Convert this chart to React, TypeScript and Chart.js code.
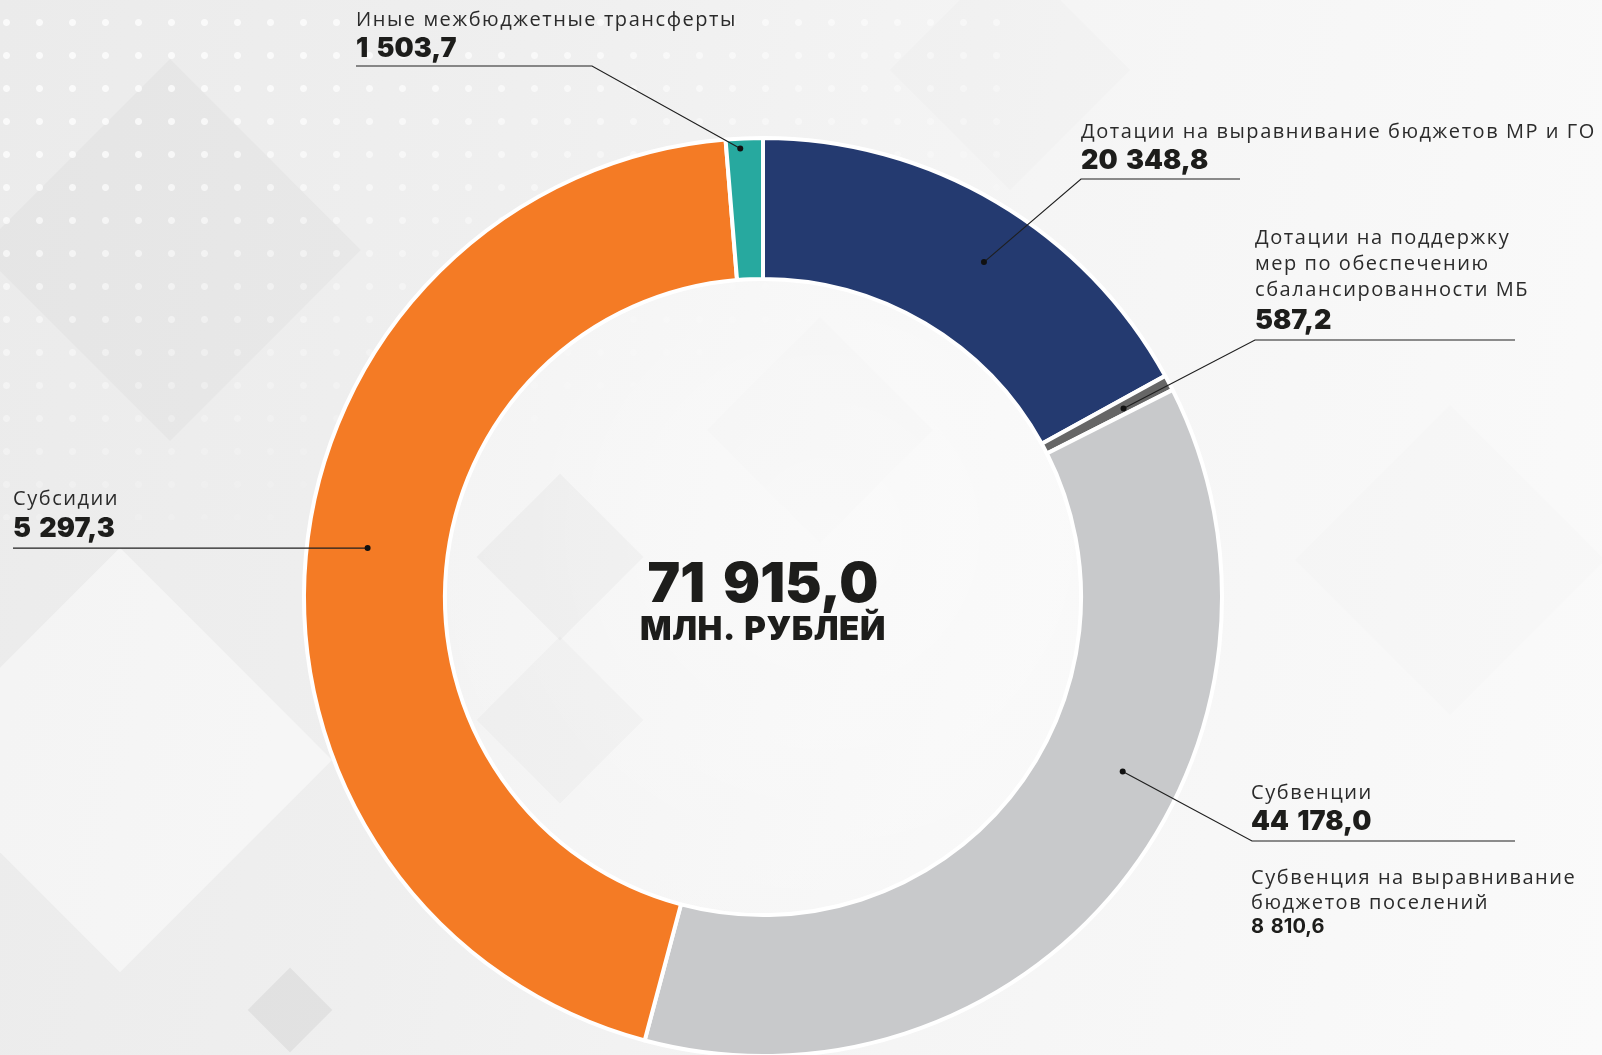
import React, { useEffect, useRef } from 'react';
import { Chart, registerables } from 'chart.js';

Chart.register(...registerables);

// ---- data ----
const categories = [
  'Дотации на выравнивание бюджетов МР и ГО',
  'Дотации на поддержку мер по обеспечению сбалансированности МБ',
  'Субвенции',
  'Субсидии',
  'Иные межбюджетные трансферты',
];
const valueLabels = ['20 348,8', '587,2', '44 178,0', '5 297,3', '1 503,7'];
// share of the ring as drawn in the picture (percent of circle)
const arcShares = [17.0, 0.55, 36.6, 44.55, 1.3];
const colors = ['#243a70', '#666666', '#c8c9cb', '#f47b25', '#27a99f'];
const totalLabel = '71 915,0';
const unitLabel = 'МЛН. РУБЛЕЙ';
const noteLines = ['Субвенция на выравнивание', 'бюджетов поселений'];
const noteValue = '8 810,6';

// ---- layout (styling only) ----
const CX = 763;
const CY = 597;
const W = 1602;
const H = 1055;
const LABEL_FONT = '"Open Sans", sans-serif';
const BOLD_FONT = 'Inter, Roboto, "Noto Sans", sans-serif';
const LABEL_SPACING = 1.55;

type Leader = { along: number; across: number; elbow: [number, number] | null; endX: number };
const leaders: Leader[] = [
  { along: 0.546, across: 0.59, elbow: [1081, 179], endX: 1240 },
  { along: 0.6, across: 0.63, elbow: [1255, 340], endX: 1515 },
  { along: 0.4, across: 0.58, elbow: [1252, 841], endX: 1515 },
  { along: 0.512, across: 0.57, elbow: null, endX: 13 },
  { along: 0.38, across: 0.93, elbow: [592, 66], endX: 356 },
];

const labelBlocks = [
  { x: 1081, lines: ['Дотации на выравнивание бюджетов МР и ГО'], baselines: [138.5], valueBaseline: 170 },
  { x: 1255, lines: ['Дотации на поддержку', 'мер по обеспечению', 'сбалансированности МБ'], baselines: [244.5, 270.5, 296.5], valueBaseline: 330 },
  { x: 1251, lines: ['Субвенции'], baselines: [800], valueBaseline: 831 },
  { x: 13, lines: ['Субсидии'], baselines: [506], valueBaseline: 538.5 },
  { x: 356, lines: ['Иные межбюджетные трансферты'], baselines: [26.7], valueBaseline: 58.3 },
];

function Txt(props: {
  x: number;
  baseline: number;
  size: number;
  weight?: number;
  family?: string;
  center?: boolean;
  spacing?: number;
  wordSpacing?: number;
  children: React.ReactNode;
}) {
  const { x, baseline, size, weight = 400, family = LABEL_FONT, center, spacing = 0, wordSpacing = 0 } = props;
  const top = baseline - 0.89 * size;
  const style: React.CSSProperties = {
    position: 'absolute',
    top,
    left: center ? x - 500 : x,
    width: center ? 1000 : undefined,
    textAlign: center ? 'center' : 'left',
    fontFamily: family,
    fontSize: size,
    fontWeight: weight,
    lineHeight: `${size}px`,
    letterSpacing: spacing,
    wordSpacing,
    color: weight >= 700 ? '#1d1d1b' : '#2b2b2b',
    whiteSpace: 'nowrap',
  };
  return <div style={style}>{props.children}</div>;
}

const leaderPlugin = {
  id: 'leaders',
  afterDatasetsDraw(chart: any) {
    const ctx = chart.ctx;
    const meta = chart.getDatasetMeta(0);
    ctx.save();
    meta.data.forEach((arc: any, i: number) => {
      const L = leaders[i];
      if (!L) return;
      const p = arc.getProps(['x', 'y', 'startAngle', 'endAngle', 'innerRadius', 'outerRadius'], true);
      const a = p.startAngle + (p.endAngle - p.startAngle) * L.along;
      const r = p.innerRadius + (p.outerRadius - p.innerRadius) * L.across;
      const dx = p.x + r * Math.cos(a);
      const dy = p.y + r * Math.sin(a);
      ctx.strokeStyle = '#1f1f1f';
      ctx.lineWidth = 1.2;
      ctx.beginPath();
      ctx.moveTo(dx, dy);
      if (L.elbow) {
        ctx.lineTo(L.elbow[0], L.elbow[1]);
        ctx.lineTo(L.endX, L.elbow[1]);
      } else {
        ctx.lineTo(L.endX, dy);
      }
      ctx.stroke();
      ctx.fillStyle = '#111';
      ctx.beginPath();
      ctx.arc(dx, dy, 3, 0, Math.PI * 2);
      ctx.fill();
    });
    ctx.restore();
  },
};

function Background() {
  const diamonds = [
    { cx: 170, cy: 250, s: 270, c: 'rgba(0,0,0,0.022)' },
    { cx: 560, cy: 557, s: 118, c: 'rgba(0,0,0,0.045)' },
    { cx: 560, cy: 720, s: 118, c: 'rgba(0,0,0,0.03)' },
    { cx: 820, cy: 430, s: 160, c: 'rgba(0,0,0,0.012)' },
    { cx: 120, cy: 760, s: 300, c: 'rgba(255,255,255,0.45)' },
    { cx: 1010, cy: 70, s: 170, c: 'rgba(0,0,0,0.012)' },
    { cx: 290, cy: 1010, s: 60, c: 'rgba(0,0,0,0.05)' },
    { cx: 1450, cy: 560, s: 220, c: 'rgba(0,0,0,0.008)' },
  ];
  return (
    <>
      <div
        style={{
          position: 'absolute',
          inset: 0,
          background: 'linear-gradient(100deg, #ebebeb 0%, #efefef 30%, #f5f5f5 60%, #fafafa 100%)',
        }}
      />
      {diamonds.map((d, i) => (
        <div
          key={i}
          style={{
            position: 'absolute',
            left: d.cx - d.s / 2,
            top: d.cy - d.s / 2,
            width: d.s,
            height: d.s,
            background: d.c,
            transform: 'rotate(45deg)',
          }}
        />
      ))}
      <div
        style={{
          position: 'absolute',
          left: 0,
          top: 0,
          width: 1000,
          height: 520,
          backgroundImage: 'radial-gradient(circle, rgba(255,255,255,0.9) 3px, rgba(255,255,255,0) 4px)',
          backgroundSize: '33px 33px',
          backgroundPosition: '-10px 6px',
          WebkitMaskImage: 'linear-gradient(160deg, rgba(0,0,0,0.8) 20%, rgba(0,0,0,0) 75%)',
          maskImage: 'linear-gradient(160deg, rgba(0,0,0,0.8) 20%, rgba(0,0,0,0) 75%)',
        }}
      />
      <div
        style={{
          position: 'absolute',
          left: CX - 318,
          top: CY - 318,
          width: 636,
          height: 636,
          borderRadius: '50%',
          background: 'radial-gradient(circle at 60% 40%, rgba(255,255,255,0.55), rgba(255,255,255,0.2))',
        }}
      />
    </>
  );
}

export default function App() {
  const canvasRef = useRef<HTMLCanvasElement | null>(null);

  useEffect(() => {
    if (!canvasRef.current) return;
    const chart = new Chart(canvasRef.current, {
      type: 'doughnut',
      data: {
        labels: categories,
        datasets: [
          {
            data: arcShares,
            backgroundColor: colors,
            borderColor: '#ffffff',
            borderWidth: 4,
            hoverOffset: 0,
          },
        ],
      },
      options: {
        responsive: false,
        animation: false,
        radius: 459,
        cutout: '69.3%',
        layout: { padding: { left: 0, right: W - 2 * CX, top: 2 * CY - H, bottom: 0 } },
        plugins: {
          legend: { display: false },
          tooltip: { enabled: false },
        },
      },
      plugins: [leaderPlugin],
    });
    return () => chart.destroy();
  }, []);

  return (
    <div style={{ position: 'fixed', left: 0, top: 0, width: W, height: H, overflow: 'hidden' }}>
      <Background />
      <canvas ref={canvasRef} width={W} height={H} style={{ position: 'absolute', left: 0, top: 0, width: W, height: H }} />
      {labelBlocks.map((b, i) => (
        <React.Fragment key={i}>
          {b.lines.map((ln, j) => (
            <Txt key={j} x={b.x} baseline={b.baselines[j]} size={20} spacing={LABEL_SPACING}>
              {ln}
            </Txt>
          ))}
          <Txt x={b.x} baseline={b.valueBaseline} size={27} weight={900} family={BOLD_FONT} wordSpacing={3}>
            {valueLabels[i]}
          </Txt>
        </React.Fragment>
      ))}
      <Txt x={1251} baseline={885} size={20} spacing={LABEL_SPACING}>
        {noteLines[0]}
      </Txt>
      <Txt x={1251} baseline={909.5} size={20} spacing={LABEL_SPACING}>
        {noteLines[1]}
      </Txt>
      <Txt x={1251} baseline={934} size={20} weight={700} family={BOLD_FONT} wordSpacing={2}>
        {noteValue}
      </Txt>
      <Txt x={CX} baseline={604} size={55} weight={900} family={BOLD_FONT} center wordSpacing={7}>
        {totalLabel}
      </Txt>
      <Txt x={CX} baseline={641.7} size={33} weight={900} family={BOLD_FONT} center spacing={0.6} wordSpacing={3}>
        {unitLabel}
      </Txt>
    </div>
  );
}
